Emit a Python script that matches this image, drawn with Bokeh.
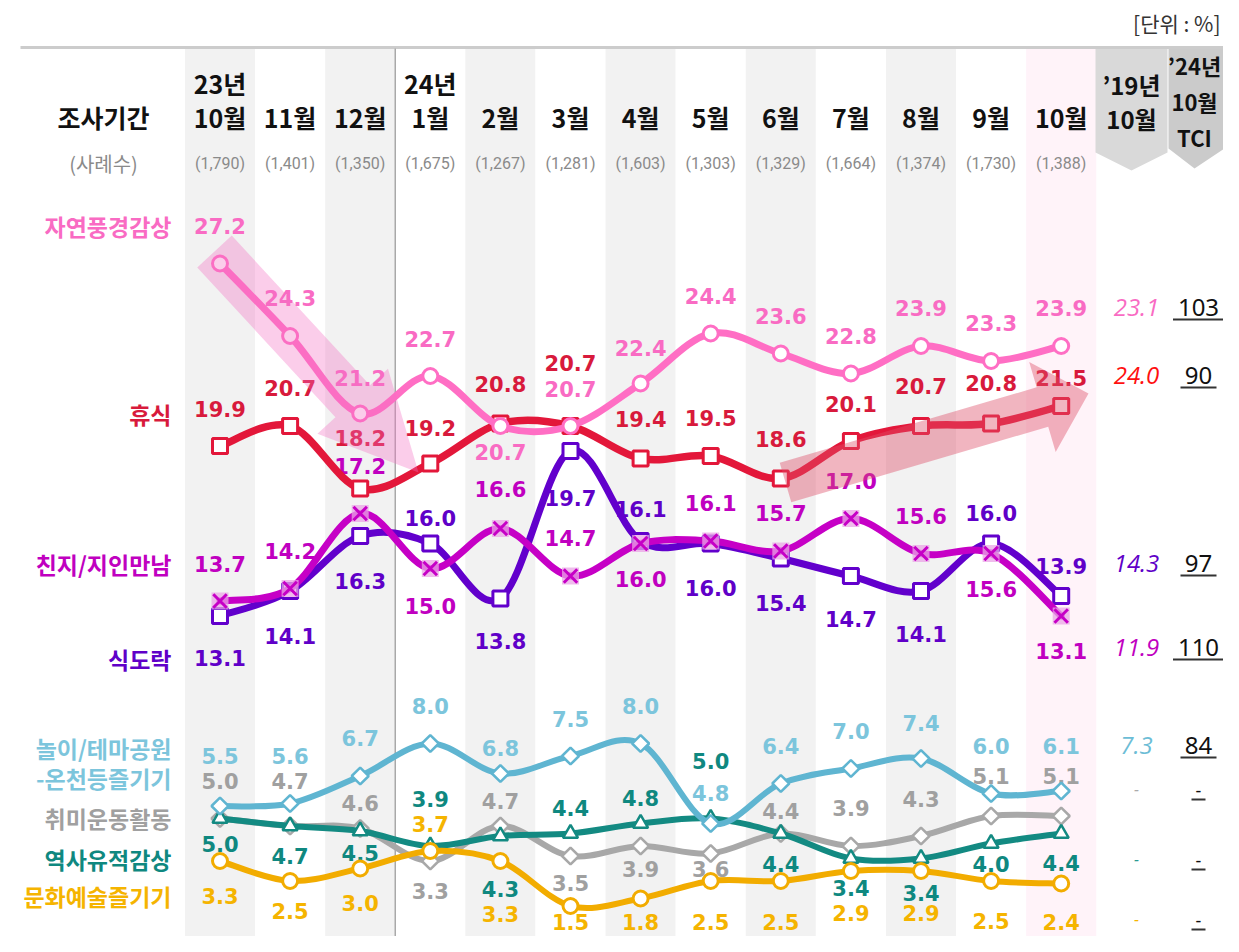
import math
from bokeh.plotting import figure
from bokeh.models import Range1d
from bokeh.embed import file_html
from bokeh.resources import INLINE
from bokeh.core.properties import value

# ---------------- data ----------------
periods = ["10월", "11월", "12월", "1월", "2월", "3월", "4월", "5월", "6월", "7월", "8월", "9월", "10월"]
period_years = ["23년", "", "", "24년", "", "", "", "", "", "", "", "", ""]
sample_sizes = ["(1,790)", "(1,401)", "(1,350)", "(1,675)", "(1,267)", "(1,281)", "(1,603)",
                "(1,303)", "(1,329)", "(1,664)", "(1,374)", "(1,730)", "(1,388)"]

series_names = ["자연풍경감상", "휴식", "친지/지인만남", "식도락", "놀이/테마공원",
                "취미운동활동", "역사유적감상", "문화예술즐기기"]
series_name_extra = "-온천등즐기기"

nature = [27.2, 24.3, 21.2, 22.7, 20.7, 20.7, 22.4, 24.4, 23.6, 22.8, 23.9, 23.3, 23.9]
rest = [19.9, 20.7, 18.2, 19.2, 20.8, 20.7, 19.4, 19.5, 18.6, 20.1, 20.7, 20.8, 21.5]
friends = [13.7, 14.2, 17.2, 15.0, 16.6, 14.7, 16.0, 16.1, 15.7, 17.0, 15.6, 15.6, 13.1]
food = [13.1, 14.1, 16.3, 16.0, 13.8, 19.7, 16.1, 16.0, 15.4, 14.7, 14.1, 16.0, 13.9]
themepark = [5.5, 5.6, 6.7, 8.0, 6.8, 7.5, 8.0, 4.8, 6.4, 7.0, 7.4, 6.0, 6.1]
hobby = [5.0, 4.7, 4.6, 3.3, 4.7, 3.5, 3.9, 3.6, 4.4, 3.9, 4.3, 5.1, 5.1]
history = [5.0, 4.7, 4.5, 3.9, 4.3, 4.4, 4.8, 5.0, 4.4, 3.4, 3.4, 4.0, 4.4]
culture = [3.3, 2.5, 3.0, 3.7, 3.3, 1.5, 1.8, 2.5, 2.5, 2.9, 2.9, 2.5, 2.4]

prev_2019 = ["23.1", "24.0", "11.9", "14.3", "7.3", "-", "-", "-"]
tci_2024 = ["103", "90", "110", "97", "84", "-", "-", "-"]

# ---------------- layout helpers (pixel space of the picture) ----------------
W, H = 1223, 936
X0, DX = 219.5, 70.1
Y0, V0, DY = 263.0, 27.2, 25.0


def X(px):
    return (px - X0) / DX


def Y(py):
    return V0 - (py - Y0) / DY


p = figure(width=W, height=H, output_backend="svg", toolbar_location=None,
           x_range=Range1d(X(0), X(W)), y_range=Range1d(Y(H), Y(0)),
           min_border=0, background_fill_color="white", border_fill_color="white")
p.axis.visible = False
p.grid.visible = False
p.outline_line_color = None

KFONT = value("Noto Sans CJK KR")
NFONT = value("DejaVu Sans")

n = len(periods)
idx = list(range(n))

# ---------------- background bands ----------------
band_colors = []
for i in idx:
    if i == n - 1:
        band_colors.append("#FFF3F9")
    elif i % 2 == 0:
        band_colors.append("#F2F2F2")
    else:
        band_colors.append("#FFFFFF")
p.quad(left=[i - 0.5 for i in idx], right=[i + 0.5 for i in idx],
       top=Y(48), bottom=Y(H + 5), fill_color=band_colors, line_color=None)

# header arrow boxes ('19 and TCI)
C19, CTCI = 1131, 1194
box19 = [(1095, 48), (1167, 48), (1167, 152), (C19, 170), (1095, 152)]
boxtci = [(1168, 48), (1224, 48), (1224, 148), (CTCI, 168), (1168, 148)]
p.patch([X(a) for a, b in box19], [Y(b) for a, b in box19], fill_color="#D9D9D9", line_color=None)
p.patch([X(a) for a, b in boxtci], [Y(b) for a, b in boxtci], fill_color="#CBCBCB", line_color=None)

# top rule & year separator
p.segment(x0=[X(20)], y0=[Y(47)], x1=[X(W + 5)], y1=[Y(47)], line_color="#CCCCCC", line_width=3)
p.segment(x0=[2.5], y0=[Y(48)], x1=[2.5], y1=[Y(H + 5)], line_color="#A9A9A9", line_width=1.5)

# ---------------- header texts ----------------
p.text(x=[X(1220)], y=[Y(22)], text=["[단위 : %]"], text_font=KFONT, text_font_size="21px",
       text_color="#333333", text_align="right", text_baseline="middle")
p.text(x=[X(103)], y=[Y(116)], text=["조사기간"], text_font=KFONT, text_font_size="25px",
       text_font_style="bold", text_color="#111111", text_align="center", text_baseline="middle")
p.text(x=[X(103)], y=[Y(163)], text=["(사례수)"], text_font=KFONT, text_font_size="20px",
       text_color="#8A8A8A", text_align="center", text_baseline="middle")

p.text(x=idx, y=[Y(116)] * n, text=periods, text_font=KFONT, text_font_size="25px",
       text_font_style="bold", text_color="#111111", text_align="center", text_baseline="middle")
p.text(x=idx, y=[Y(82)] * n, text=period_years, text_font=KFONT, text_font_size="25px",
       text_font_style="bold", text_color="#111111", text_align="center", text_baseline="middle")
p.text(x=idx, y=[Y(163)] * n, text=sample_sizes, text_font=value("Roboto"),
       text_font_size="16px", text_color="#8A8A8A", text_align="center", text_baseline="middle")

p.text(x=[X(C19), X(C19)], y=[Y(84), Y(118)], text=["’19년", "10월"], text_font=KFONT,
       text_font_size="24px", text_font_style="bold", text_color="#111111",
       text_align="center", text_baseline="middle")
p.text(x=[X(CTCI)] * 3, y=[Y(64), Y(100), Y(136)], text=["’24년", "10월", "TCI"], text_font=KFONT,
       text_font_size="22px", text_font_style="bold", text_color="#111111",
       text_align="center", text_baseline="middle")

# ---------------- series styles ----------------
series = [nature, rest, friends, food, themepark, hobby, history, culture]
line_colors = ["#FF6EC4", "#E3173A", "#C600C6", "#6200CC", "#5FB5D1", "#A8A8A8", "#138A82", "#F2AC00"]
text_colors = ["#F96BC3", "#D81A3C", "#C000C0", "#6000C8", "#7CC5DC", "#A0A0A0", "#0F8880", "#F5B400"]
prev_colors = ["#F96BC3", "#FF1010", "#C000C0", "#6000C8", "#6CBDD6", "#AAAAAA", "#2A9A92", "#F5B400"]
markers = ["circle", "square", "x", "square", "diamond", "diamond", "triangle", "circle"]
widths = [7, 7.5, 7, 7, 6, 6, 6, 6]
name_y = [225, 413, 563, 658, 747, 817, 858, 895]
prev_y = [307, 375, 647, 563, 745, 788, 858, 918]
label_offsets = [
    [-38, -38.5, -36, -37.5, 26, -37.5, -36, -38, -38, -38, -38.5, -38.5, -38.5],
    [-37.5, -38.5, -51, -36, -40, -63.5, -40, -38.5, -40, -37.5, -40.5, -41, -28.5],
    [-37.5, -38, -48, 37, -40, -38.5, 35, -38.5, -38.5, -38, -38, 35, 34.5],
    [41.5, 44.5, 44.5, -26, 42, 46.5, -32.5, 44, 44, 42.5, 42.5, -31, -30.5],
    [-50.5, -48, -38.5, -38, -26, -37.5, -38, -31, -38, -38, -36, -48, -45.5],
    [-38, -45.5, -26, 29.5, -25.5, 26.5, 22.5, 15, -23, -38.5, -37.5, -40.5, -40.5],
    [25, 29.5, 21.5, -47.5, 52.5, -26, -26, -58, 30, 29, 34, 20, 29],
    [34.5, 29.5, 34, -27.5, 52.5, 16, 23, 41, 41, 41.5, 42, 40, 38],
]

# series names (left)
for k, name in enumerate(series_names):
    p.text(x=[X(171)], y=[Y(name_y[k])], text=[name], text_font=KFONT, text_font_size="23px",
           text_font_style="bold", text_color=text_colors[k], text_align="right",
           text_baseline="middle")
p.text(x=[X(171)], y=[Y(777)], text=[series_name_extra], text_font=KFONT, text_font_size="23px",
       text_font_style="bold", text_color=text_colors[4], text_align="right", text_baseline="middle")

# value labels (behind lines)
for k, vals in enumerate(series):
    ly = [v - off / DY for v, off in zip(vals, label_offsets[k])]
    p.text(x=idx, y=ly, text=[f"{v:.1f}" for v in vals], text_font=NFONT, text_font_size="21px",
           text_font_style="bold", text_color=text_colors[k], text_align="center",
           text_baseline="middle")

# '19 and TCI columns
C19V, CTCIV = 1136, 1198
for k in range(len(series)):
    txt19 = prev_2019[k]
    p.text(x=[X(C19V)], y=[Y(prev_y[k])], text=[txt19], text_font=value("Open Sans"),
           text_font_size="24px" if txt19 != "-" else "16px", text_font_style="italic",
           text_color=prev_colors[k], text_align="center", text_baseline="middle")
    t = tci_2024[k]
    p.text(x=[X(CTCIV)], y=[Y(prev_y[k] + (0 if t != "-" else 2))], text=[t], text_font=value("Noto Sans"),
           text_font_size="24px" if t != "-" else "18px", text_color="#111111",
           text_align="center", text_baseline="middle")
    half = (len(t) * 7.5 + 3) if t != "-" else 7
    uy = prev_y[k] + (12 if t != "-" else 11)
    p.segment(x0=[X(CTCIV - half)], y0=[Y(uy)], x1=[X(CTCIV + half)], y1=[Y(uy)],
              line_color="#333333", line_width=2)


# smooth lines + markers
def bezier_segments(xs, ys):
    m = len(xs)
    out = {k: [] for k in ("x0", "y0", "x1", "y1", "cx0", "cy0", "cx1", "cy1")}
    for i in range(m - 1):
        xm, ym = (xs[i - 1], ys[i - 1]) if i > 0 else (xs[i], ys[i])
        xp, yp = (xs[i + 2], ys[i + 2]) if i + 2 < m else (xs[i + 1], ys[i + 1])
        out["x0"].append(xs[i]); out["y0"].append(ys[i])
        out["x1"].append(xs[i + 1]); out["y1"].append(ys[i + 1])
        out["cx0"].append(xs[i] + (xs[i + 1] - xm) / 6.0)
        out["cy0"].append(ys[i] + (ys[i + 1] - ym) / 6.0)
        out["cx1"].append(xs[i + 1] - (xp - xs[i]) / 6.0)
        out["cy1"].append(ys[i + 1] - (yp - ys[i]) / 6.0)
    return out


draw_order = [5, 6, 7, 4, 1, 0, 3, 2]
for k in draw_order:
    vals = series[k]
    seg = bezier_segments(idx, vals)
    p.bezier(line_color=line_colors[k], line_width=widths[k], line_cap="round", **seg)
    mk = markers[k]
    if mk == "x":
        p.scatter(idx, vals, marker="square", size=17, fill_color="#E9A6E6", fill_alpha=0.75,
                  line_color=None)
        p.scatter(idx, vals, marker="x", size=19, line_color=line_colors[k], line_width=3)
    elif mk == "diamond":
        p.scatter(idx, vals, marker="square", angle=math.pi / 4, size=12, fill_color="white",
                  line_color=line_colors[k], line_width=2.5)
    elif mk == "triangle":
        p.scatter(idx, vals, marker="triangle", size=15, fill_color="white",
                  line_color=line_colors[k], line_width=2.5)
    else:
        p.scatter(idx, vals, marker=mk, size=15, fill_color="white",
                  line_color=line_colors[k], line_width=3)


# decorative trend arrows (picture pixel geometry)
def arrow_poly(tail, tip, body_half, head_len, head_half):
    dx, dy = tip[0] - tail[0], tip[1] - tail[1]
    ln = math.hypot(dx, dy)
    ux, uy = dx / ln, dy / ln
    nx, ny = uy, -ux
    bx, by = tip[0] - head_len * ux, tip[1] - head_len * uy
    pts = [
        (tail[0] - body_half * nx, tail[1] - body_half * ny),
        (bx - body_half * nx, by - body_half * ny),
        (bx - head_half * nx, by - head_half * ny),
        tip,
        (bx + head_half * nx, by + head_half * ny),
        (bx + body_half * nx, by + body_half * ny),
        (tail[0] + body_half * nx, tail[1] + body_half * ny),
    ]
    return [X(a) for a, b in pts], [Y(b) for a, b in pts]


ax, ay = arrow_poly((214, 251), (418, 472), 23.5, 97, 48)
p.patch(ax, ay, fill_color="#F36FC4", fill_alpha=0.35, line_color=None)
ax, ay = arrow_poly((785, 482), (1088, 393), 20.5, 48, 47)
p.patch(ax, ay, fill_color="#DE4F6A", fill_alpha=0.42, line_color=None)

open("out.html", "w").write(file_html(p, INLINE))
